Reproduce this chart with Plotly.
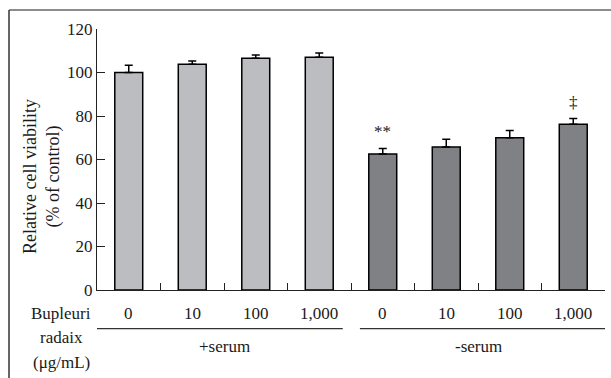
import plotly.graph_objects as go

categories = ["0", "10", "100", "1,000", "0", "10", "100", "1,000"]
values = [100.0, 103.8, 106.5, 107.0, 62.5, 65.7, 70.0, 76.2]
errors = [3.3, 1.5, 1.5, 2.0, 2.6, 3.6, 3.3, 2.7]
colors = ["#bcbdc1"] * 4 + ["#808184"] * 4
groups = ["+serum", "-serum"]
marks = [(4, 72.8, "**"), (7, 86.0, "‡")]
ytick_vals = [0, 20, 40, 60, 80, 100, 120]

FONT = '"Liberation Serif", "DejaVu Serif", serif'
FS = 17
W, H = 611, 378
L, R, T, B = 97, 6, 29, 88
pw = W - L - R
ph = H - T - B


def px_x(p):
    return (p - L) / pw


def px_y(p):
    return (H - B - p) / ph


x = list(range(len(values)))
fig = go.Figure()
fig.add_trace(go.Bar(
    x=x, y=values, width=0.44,
    marker=dict(color=colors, line=dict(color="black", width=1.5)),
    error_y=dict(type="data", array=errors, arrayminus=[0] * len(errors),
                 symmetric=False, color="black", thickness=1.5, width=4),
))

tf = dict(size=FS, family=FONT, color="#1a1a1a")
ann = []
for i, c in enumerate(categories):
    ann.append(dict(x=i, y=px_y(313), xref="x", yref="paper", text=c,
                    showarrow=False, font=tf, xanchor="center", yanchor="middle"))
for txt, yy in [("Bupleuri", 313), ("radaix", 337), ("(μg/mL)", 362)]:
    ann.append(dict(x=px_x(61), y=px_y(yy), xref="paper", yref="paper", text=txt,
                    showarrow=False, font=tf, xanchor="center", yanchor="middle"))
ann.append(dict(x=1.5, y=px_y(346), xref="x", yref="paper", text=groups[0],
                showarrow=False, font=tf, xanchor="center", yanchor="middle"))
ann.append(dict(x=5.5, y=px_y(346), xref="x", yref="paper", text=groups[1],
                showarrow=False, font=tf, xanchor="center", yanchor="middle"))
for xi, yv, t in marks:
    ann.append(dict(x=xi, y=yv, xref="x", yref="y", text=t, showarrow=False,
                    font=tf, xanchor="center", yanchor="middle"))
ann.append(dict(x=px_x(42), y=px_y(177), xref="paper", yref="paper",
                text="Relative cell viability<br>(% of control)", textangle=-90,
                showarrow=False, font=dict(size=18, family=FONT, color="#1a1a1a"),
                xanchor="center", yanchor="middle"))

shapes = [
    dict(type="line", xref="x", yref="paper", x0=-0.5, x1=3.37,
         y0=px_y(328.7), y1=px_y(328.7), line=dict(color="#333", width=1.2)),
    dict(type="line", xref="x", yref="paper", x0=3.64, x1=7.5,
         y0=px_y(328.7), y1=px_y(328.7), line=dict(color="#333", width=1.2)),
    dict(type="line", xref="paper", yref="paper", x0=px_x(9), x1=px_x(612),
         y0=px_y(10), y1=px_y(10), line=dict(color="#666", width=1.5)),
    dict(type="line", xref="paper", yref="paper", x0=px_x(9), x1=px_x(9),
         y0=px_y(10), y1=px_y(379), line=dict(color="#333", width=1.5)),
]

fig.update_layout(
    width=W, height=H,
    margin=dict(l=L, r=R, t=T, b=B),
    paper_bgcolor="white", plot_bgcolor="white",
    showlegend=False,
    font=tf,
    annotations=ann, shapes=shapes,
    xaxis=dict(range=[-0.5, 7.5], showgrid=False, zeroline=False,
               showline=True, linecolor="#222", linewidth=1.2,
               tickmode="array", tickvals=[i + 0.5 for i in range(len(values))],
               ticktext=[""] * len(values), ticks="inside", ticklen=7,
               tickcolor="#222", tickwidth=1.2),
    yaxis=dict(range=[0, 120], showgrid=False, zeroline=False,
               showline=True, linecolor="#222", linewidth=1.2,
               tickmode="array", tickvals=ytick_vals,
               ticks="inside", ticklen=8, tickcolor="#222", tickwidth=1.2,
               tickfont=tf),
)

fig.write_html("out.html", config={"displayModeBar": False},
               post_script="document.body.style.margin='0';document.body.style.overflow='hidden';")
